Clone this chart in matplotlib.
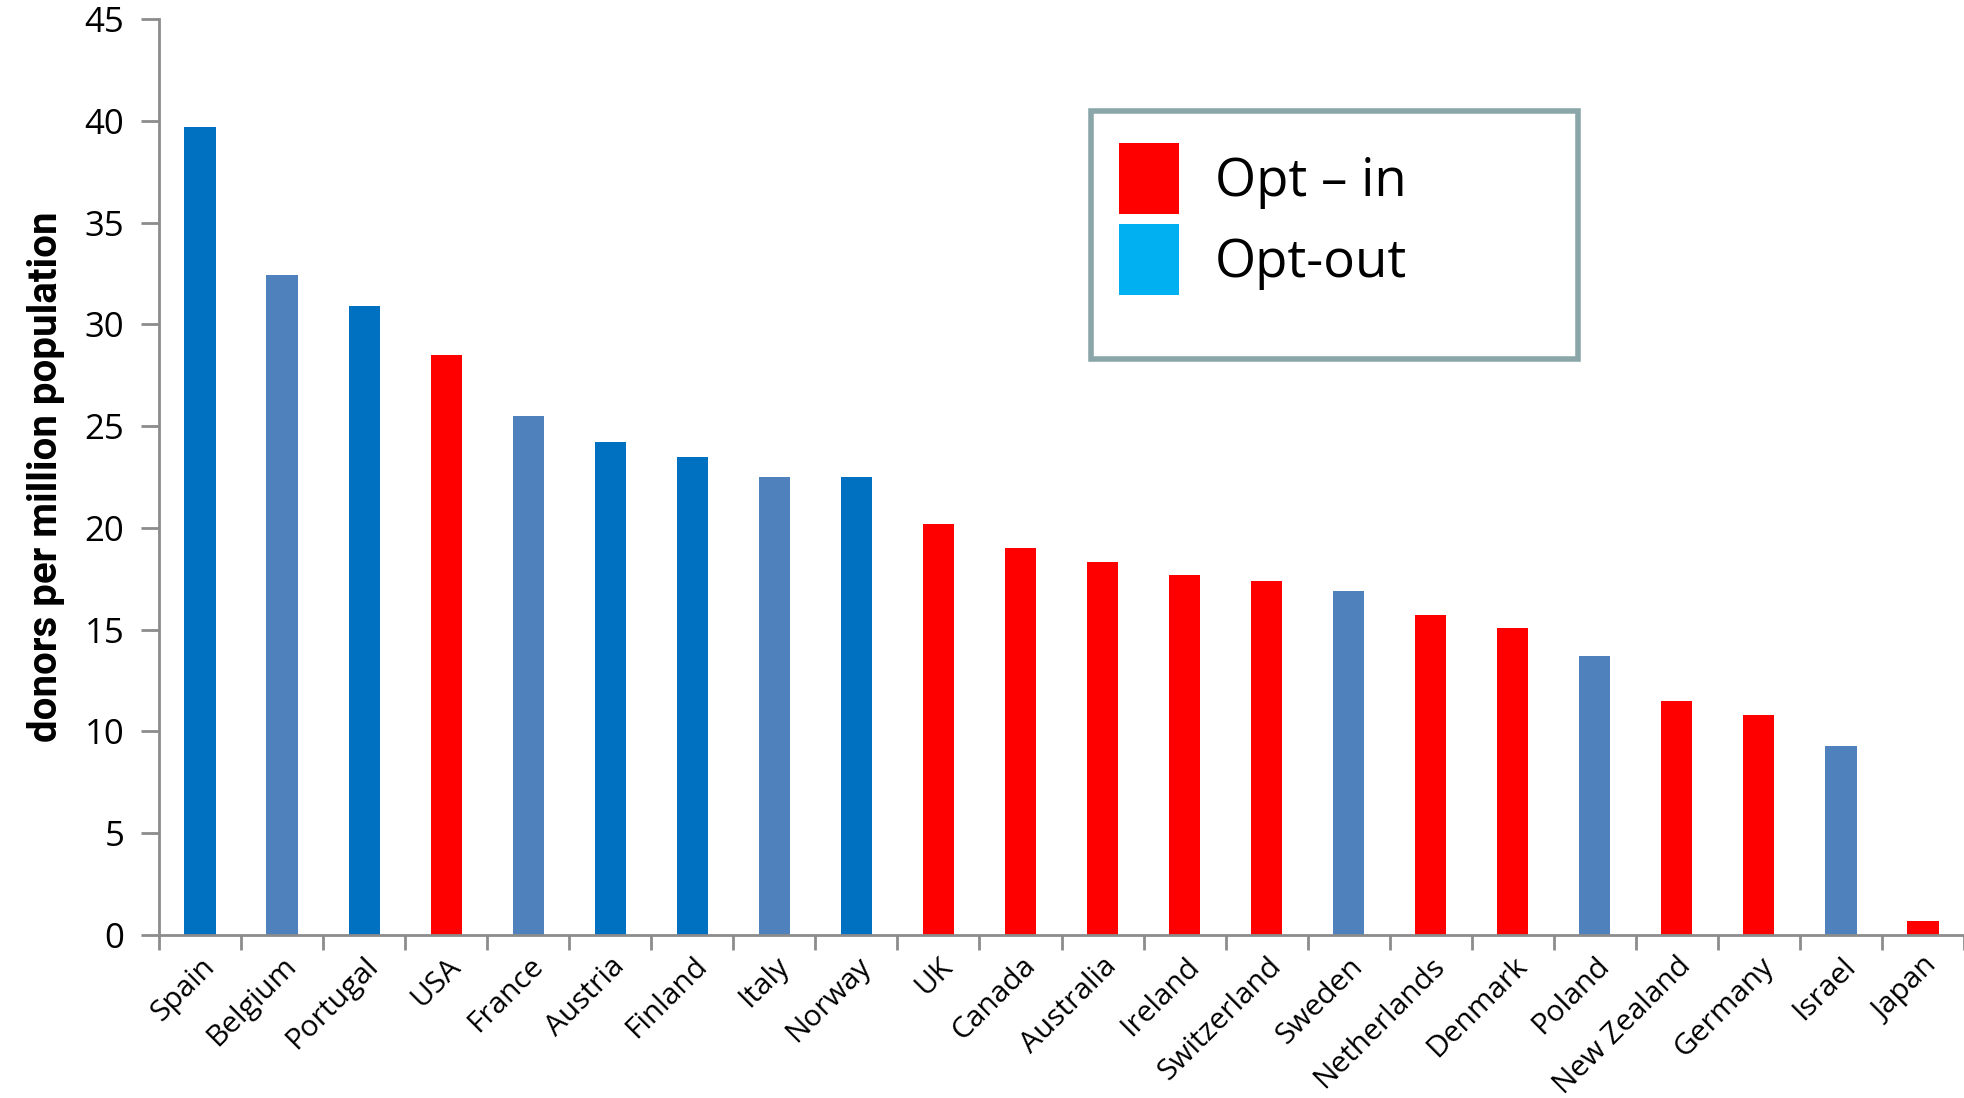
import matplotlib
matplotlib.use("Agg")
import matplotlib.pyplot as plt
from matplotlib.patches import Patch, Rectangle
from matplotlib.transforms import ScaledTranslation
import numpy as np

countries = ["Spain", "Belgium", "Portugal", "USA", "France", "Austria", "Finland",
             "Italy", "Norway", "UK", "Canada", "Australia", "Ireland", "Switzerland",
             "Sweden", "Netherlands", "Denmark", "Poland", "New Zealand", "Germany",
             "Israel", "Japan"]
donors = [39.7, 32.4, 30.9, 28.5, 25.5, 24.2, 23.5, 22.5, 22.5, 20.2, 19.0, 18.3,
          17.7, 17.4, 16.9, 15.7, 15.1, 13.7, 11.5, 10.8, 9.3, 0.7]
# colour group for each bar: "out_dark", "out_light", "in"
groups = ["out_dark", "out_light", "out_dark", "in", "out_light", "out_dark", "out_dark",
          "out_light", "out_dark", "in", "in", "in", "in", "in",
          "out_light", "in", "in", "out_light", "in", "in", "out_light", "in"]
yticks = [0, 5, 10, 15, 20, 25, 30, 35, 40, 45]
legend_labels = ["Opt \u2013 in", "Opt-out"]

palette = {"out_dark": "#0070C0", "out_light": "#4F81BD", "in": "#FF0000"}
legend_colors = ["#FF0000", "#00B0F0"]

fig = plt.figure(figsize=(19.64, 10.98), dpi=100)
ax = fig.add_axes([159 / 1964, 1 - 935 / 1098, 1 - 159 / 1964, (935 - 19) / 1098])

x = np.arange(len(countries))
ax.bar(x, donors, width=0.38, color=[palette[g] for g in groups], zorder=2)

ax.set_xlim(-0.5, len(countries) - 0.5)
ax.set_ylim(0, 45)
ax.set_yticks(yticks)
ax.set_yticklabels([str(v) for v in yticks], fontsize=25, family="Open Sans")
ax.set_xticks(x)
ax.set_xticklabels(countries, rotation=45, ha="right", rotation_mode="anchor",
                   fontsize=21.5, family="Open Sans")
shift = ScaledTranslation(5 / 100, -1 / 100, fig.dpi_scale_trans)
for lab in ax.get_xticklabels():
    lab.set_transform(lab.get_transform() + shift)
ax.set_xticks(np.arange(len(countries) + 1) - 0.5, minor=True)
ax.tick_params(axis="x", which="major", length=0, pad=12)
ax.tick_params(axis="x", which="minor", length=11, width=2, color="#8C8C8C", direction="out")
ax.tick_params(axis="y", which="major", length=13, width=2, color="#8C8C8C", pad=12)

for s in ["top", "right"]:
    ax.spines[s].set_visible(False)
for s in ["left", "bottom"]:
    ax.spines[s].set_color("#8C8C8C")
    ax.spines[s].set_linewidth(2)

ax.set_ylabel("donors per million population", fontsize=29, fontweight="bold",
              family="Roboto")
ax.yaxis.set_label_coords(-0.052, 0.5)

handles = [Patch(facecolor=c, edgecolor="none") for c in legend_colors]
leg = ax.legend(handles, legend_labels, loc="upper left",
                bbox_to_anchor=(1119 / 1964, 1 - 143 / 1098), bbox_transform=fig.transFigure,
                frameon=False, prop={"family": "Open Sans", "size": 38},
                borderpad=0, borderaxespad=0,
                handlelength=1.14, handleheight=1.69, handletextpad=0.68, labelspacing=0.19)

fig.patches.append(Rectangle((1091 / 1964, 1 - 359 / 1098), (1578 - 1091) / 1964,
                             (359 - 111) / 1098, transform=fig.transFigure,
                             fill=False, edgecolor="#8BA6A8", linewidth=4))

fig.savefig("out.png", dpi=100, facecolor="white")
